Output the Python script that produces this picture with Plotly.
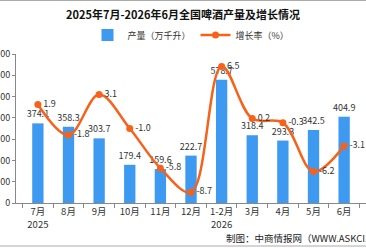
import plotly.graph_objects as go

categories = ["7月<br>2025", "8月", "9月", "10月", "11月", "12月", "1-2月<br>2026", "3月", "4月", "5月", "6月"]
production = [374.1, 358.3, 303.7, 179.4, 159.6, 222.7, 578.7, 318.4, 293.3, 342.5, 404.9]
growth = [1.9, -1.8, 3.1, -1.0, -5.8, -8.7, 6.5, 0.2, -0.3, -6.2, -3.1]

FONT = "Noto Sans CJK SC, Noto Sans, sans-serif"
BLUE = "#3E9AF0"
ORANGE = "#F7621A"

W, H = 366, 248
L, R, T, B = 16, 0, 54, 45

fig = go.Figure()
fig.add_trace(go.Bar(
    x=categories, y=production, name="产量（万千升）",
    marker=dict(color=BLUE, line=dict(width=0)),
    text=[f"{v:.1f}" for v in production], textposition="outside",
    textfont=dict(size=9, color="#333333", family=FONT),
    constraintext="none", textangle=0,
    cliponaxis=False, yaxis="y",
))
fig.add_trace(go.Scatter(
    x=categories, y=growth, name="增长率（%）", mode="lines+markers+text",
    line=dict(color=ORANGE, width=2.5, shape="spline", smoothing=1.0),
    marker=dict(color=ORANGE, size=7),
    text=[f"{v:.1f}" for v in growth], textposition="middle right",
    textfont=dict(size=9, color="#333333", family=FONT),
    cliponaxis=False, yaxis="y2",
))

fig.update_layout(
    width=W, height=H,
    margin=dict(l=L, r=R, t=T, b=B, autoexpand=False),
    paper_bgcolor="white", plot_bgcolor="white",
    font=dict(family=FONT, size=9, color="#333333"),
    title=dict(text="<b>2025年7月-2026年6月全国啤酒产量及增长情况</b>",
               x=0.5, xanchor="center", y=1 - 15 / H, yanchor="middle",
               font=dict(size=11, color="#111111", family=FONT)),
    legend=dict(orientation="h", x=0.5, xanchor="center", y=1 + (T - 35) / (H - T - B),
                yanchor="middle", font=dict(size=9, color="#333333"),
                itemwidth=30, bgcolor="rgba(0,0,0,0)"),
    bargap=0.63,
    showlegend=True,
    xaxis=dict(showline=True, linecolor="#888888", linewidth=1, ticks="outside",
               tickson="boundaries", ticklen=4, tickcolor="#888888", tickangle=0,
               automargin=False,
               tickfont=dict(size=9.5, color="#333333"), showgrid=False),
    yaxis=dict(range=[0, 700], dtick=100, showline=True, linecolor="#888888",
               ticks="outside", ticklen=3, tickcolor="#888888", showgrid=False,
               automargin=False,
               zeroline=False, tickfont=dict(size=9, color="#333333")),
    yaxis2=dict(range=[-10, 8], dtick=2, overlaying="y", side="right", showline=True,
                linecolor="#888888", ticks="outside", ticklen=3, tickcolor="#888888",
                automargin=False,
                showgrid=False, zeroline=False, tickfont=dict(size=9, color="#333333")),
)

fig.add_annotation(text="制图：中商情报网（WWW.ASKCI.COM）", xref="paper", yref="paper",
                   x=(224 - L) / (W - L - R), y=-(238 - (H - B)) / (H - T - B),
                   xanchor="left", yanchor="middle", showarrow=False,
                   font=dict(size=9.5, color="#222222"))

fig.add_shape(type="line", xref="paper", yref="paper",
              x0=-L / (W - L - R), x1=1.1, y0=1 + (T - 0.5) / (H - T - B), y1=1 + (T - 0.5) / (H - T - B),
              line=dict(color="#AAAAAA", width=1))
fig.add_shape(type="line", xref="paper", yref="paper",
              x0=-L / (W - L - R), x1=1.1, y0=-(246 - (H - B)) / (H - T - B), y1=-(246 - (H - B)) / (H - T - B),
              line=dict(color="#AAAAAA", width=1))

fig.write_html("out.html")
